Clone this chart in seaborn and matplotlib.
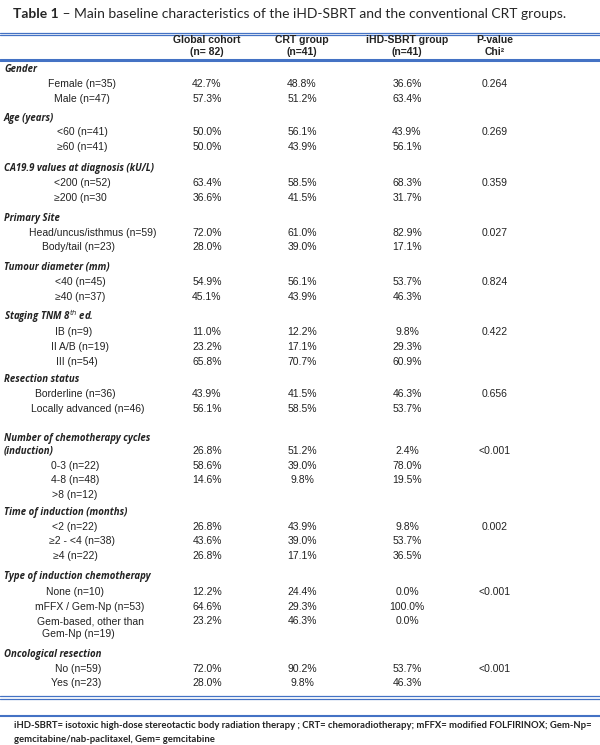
import matplotlib
matplotlib.use("Agg")
import matplotlib.pyplot as plt
import seaborn as sns

sns.set_theme(style="white")
plt.rcParams['font.family'] = ['Liberation Sans', 'DejaVu Sans']

title_bold = "Table 1"
title_rest = " – Main baseline characteristics of the iHD-SBRT and the conventional CRT groups."
col_headers = ["Global cohort\n(n= 82)", "CRT group\n(n=41)", "iHD-SBRT group\n(n=41)", "P-value\nChi²"]

# (label, kind) ; kind 'g' = group heading, 'r' = data row
labels = ["Gender", "Female (n=35)", "Male (n=47)",
          "Age (years)", "<60 (n=41)", "≥60 (n=41)",
          "CA19.9 values at diagnosis (kU/L)", "<200 (n=52)", "≥200 (n=30",
          "Primary Site", "Head/uncus/isthmus (n=59)", "Body/tail (n=23)",
          "Tumour diameter (mm)", "<40 (n=45)", "≥40 (n=37)",
          "Staging TNM 8$^{th}$ ed.", "IB (n=9)", "II A/B (n=19)", "III (n=54)",
          "Resection status", "Borderline (n=36)", "Locally advanced (n=46)",
          "Number of chemotherapy cycles", "(induction)", "0-3 (n=22)", "4-8 (n=48)", ">8 (n=12)",
          "Time of induction (months)", "<2 (n=22)", "≥2 - <4 (n=38)", "≥4 (n=22)",
          "Type of induction chemotherapy", "None (n=10)", "mFFX / Gem-Np (n=53)",
          "Gem-based, other than", "Gem-Np (n=19)",
          "Oncological resection", "No (n=59)", "Yes (n=23)"]
kinds = ["g", "r", "r", "g", "r", "r", "g", "r", "r", "g", "r", "r", "g", "r", "r",
         "g", "r", "r", "r", "g", "r", "r", "g", "g", "r", "r", "r", "g", "r", "r", "r",
         "g", "r", "r", "r", "r", "g", "r", "r"]
global_c = ["", "42.7%", "57.3%", "", "50.0%", "50.0%", "", "63.4%", "36.6%", "", "72.0%", "28.0%",
            "", "54.9%", "45.1%", "", "11.0%", "23.2%", "65.8%", "", "43.9%", "56.1%",
            "", "26.8%", "58.6%", "14.6%", "", "", "26.8%", "43.6%", "26.8%",
            "", "12.2%", "64.6%", "23.2%", "", "", "72.0%", "28.0%"]
crt = ["", "48.8%", "51.2%", "", "56.1%", "43.9%", "", "58.5%", "41.5%", "", "61.0%", "39.0%",
       "", "56.1%", "43.9%", "", "12.2%", "17.1%", "70.7%", "", "41.5%", "58.5%",
       "", "51.2%", "39.0%", "9.8%", "", "", "43.9%", "39.0%", "17.1%",
       "", "24.4%", "29.3%", "46.3%", "", "", "90.2%", "9.8%"]
ihd = ["", "36.6%", "63.4%", "", "43.9%", "56.1%", "", "68.3%", "31.7%", "", "82.9%", "17.1%",
       "", "53.7%", "46.3%", "", "9.8%", "29.3%", "60.9%", "", "46.3%", "53.7%",
       "", "2.4%", "78.0%", "19.5%", "", "", "9.8%", "53.7%", "36.5%",
       "", "0.0%", "100.0%", "0.0%", "", "", "53.7%", "46.3%"]
pval = ["", "0.264", "", "", "0.269", "", "", "0.359", "", "", "0.027", "",
        "", "0.824", "", "", "0.422", "", "", "", "0.656", "",
        "", "<0.001", "", "", "", "", "0.002", "", "",
        "", "<0.001", "", "", "", "", "<0.001", ""]
footnote = ["iHD-SBRT= isotoxic high-dose stereotactic body radiation therapy ; CRT= chemoradiotherapy; mFFX= modified FOLFIRINOX; Gem-Np=",
            "gemcitabine/nab-paclitaxel, Gem= gemcitabine"]

# layout (pixel rows)
row_y = [70, 84, 99, 118, 132, 147, 169, 183, 198, 218, 233, 247, 267, 282, 297,
         317, 332, 347, 362, 380, 394, 409, 438, 451, 466, 480, 495, 513, 527, 541, 556,
         577, 592, 607, 621, 634, 654, 669, 683]
label_x = [85, 82, 82, 85, 82, 82, 85, 82, 80, 85, 93, 78, 85, 80, 80, 85, 74, 80, 77,
           85, 75, 88, 85, 85, 75, 75, 75, 85, 75, 82, 75, 85, 75, 90, 90, 78, 85, 78, 76]
col_x = [207, 302, 407, 495]
blue = "#4472C4"

fig = plt.figure(figsize=(6, 7.45), dpi=100)
ax = fig.add_axes([0, 0, 1, 1])
ax.set_xlim(0, 600)
ax.set_ylim(745, 0)
ax.axis("off")

t = ax.text(13, 14, title_bold, fontsize=10, fontweight="bold", family=["Lato", "DejaVu Sans"], va="center")
fig.canvas.draw()
bb = t.get_window_extent().transformed(ax.transData.inverted())
ax.text(bb.x1, 14, title_rest, fontsize=10, family=["Lato", "DejaVu Sans"], va="center")

for y in (32.5, 35):
    ax.plot([0, 600], [y, y], color=blue, lw=0.9)
ax.plot([0, 600], [60, 60], color=blue, lw=2.2)
for y in (696, 698.5):
    ax.plot([0, 600], [y, y], color=blue, lw=0.9)
ax.plot([0, 600], [715.5, 715.5], color=blue, lw=1.5)

for x, h in zip(col_x, col_headers):
    ax.text(x, 46, h, fontsize=7.5, fontweight="bold", ha="center", va="center", linespacing=1.25, color="#222222")

for lab, k, g, c, i, p, y, lx in zip(labels, kinds, global_c, crt, ihd, pval, row_y, label_x):
    if k == "g":
        ax.text(4, y, lab, fontsize=6.9, fontweight="bold", style="italic",
                family=["Open Sans", "DejaVu Sans"], va="center", color="#222222")
    else:
        ax.text(lx, y, lab, fontsize=7.5, ha="center", va="center", color="#222222")
    for x, v in zip(col_x, (g, c, i, p)):
        if v:
            ax.text(x, y, v, fontsize=7.5, ha="center", va="center", color="#222222")

for j, line in enumerate(footnote):
    ax.text(14, 725 + 14 * j, line, fontsize=6.8, fontweight="bold", family=["Lato", "DejaVu Sans"],
            va="center", color="#222222")

fig.savefig("out.png", dpi=100)
